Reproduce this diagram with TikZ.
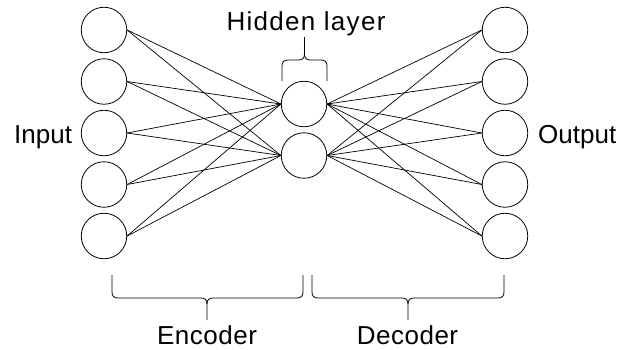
\documentclass[tikz,border=0pt]{standalone}
\usepackage{fontspec}
\setmainfont{Liberation Sans}
\begin{document}
\begin{tikzpicture}[x=1pt,y=-1pt,
  neuron/.style={circle,draw,line width=0.8pt,minimum size=45.5pt,inner sep=0pt},
  conn/.style={line width=0.7pt},
  bracepath/.style={line width=0.8pt},
  lbl/.style={inner sep=0pt,font=\fontsize{26}{30}\selectfont}]
\useasboundingbox (0,0) rectangle (620,349);
\foreach \i/\y in {1/30,2/81.5,3/133,4/184.5,5/236} {
  \node[neuron] (in\i) at (104,\y) {};
  \node[neuron] (out\i) at (505,\y) {};
}
\node[neuron] (h1) at (304,104) {};
\node[neuron] (h2) at (304,155.5) {};
\foreach \i in {1,...,5} {
  \foreach \j in {1,2} {
    \draw[conn] (in\i.east) -- (h\j.west);
    \draw[conn] (h\j.east) -- (out\i.west);
  }
}
% Encoder brace
\draw[bracepath] (112,275) -- (112,292) .. controls (112,296) and (114,298) .. (118,298) -- (201,298) .. controls (205,298) and (207,300) .. (207,304) -- (207,320);
\draw[bracepath] (303,275) -- (303,292) .. controls (303,296) and (301,298) .. (297,298) -- (213,298) .. controls (209,298) and (207,300) .. (207,304);
% Decoder brace
\draw[bracepath] (312,275) -- (312,292) .. controls (312,296) and (314,298) .. (318,298) -- (402,298) .. controls (406,298) and (408,300) .. (408,304) -- (408,320);
\draw[bracepath] (504,275) -- (504,292) .. controls (504,296) and (502,298) .. (498,298) -- (414,298) .. controls (410,298) and (408,300) .. (408,304);
% Hidden brace
\draw[bracepath] (282,81) -- (282,66) .. controls (282,62) and (284,60) .. (288,60) -- (298.5,60) .. controls (302.5,60) and (304.5,58) .. (304.5,54) -- (304.5,37);
\draw[bracepath] (327,81) -- (327,66) .. controls (327,62) and (325,60) .. (321,60) -- (310.5,60) .. controls (306.5,60) and (304.5,58) .. (304.5,54);
% Labels
\node[lbl,anchor=base] (hl) at (306,30) {\addfontfeature{LetterSpace=5}Hidden layer};
\node[lbl,anchor=base west] (inl) at (14,143) {Input};
\node[lbl,anchor=base west] (outl) at (538,143) {Output};
\node[lbl,anchor=base] (enc) at (207,344) {\addfontfeature{LetterSpace=2}Encoder};
\node[lbl,anchor=base] (dec) at (407.5,344) {\addfontfeature{LetterSpace=2}Decoder};
\end{tikzpicture}
\end{document}
